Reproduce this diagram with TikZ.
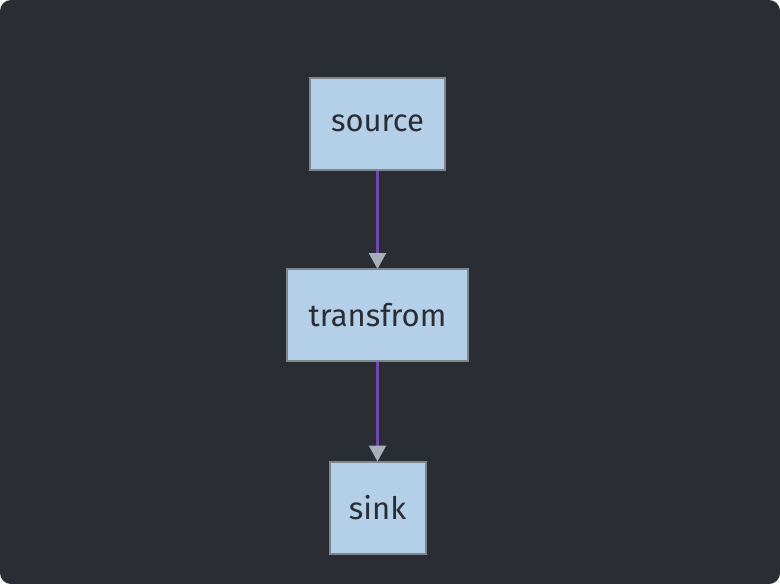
\documentclass[tikz,border=0pt]{standalone}
\usepackage{fontspec}
\setmainfont{Fira Sans}
\usetikzlibrary{arrows.meta}

\definecolor{bgdark}{HTML}{2A2D33}
\definecolor{boxfill}{HTML}{B4CFE8}
\definecolor{boxline}{HTML}{80868F}
\definecolor{flowline}{HTML}{7048B0}
\definecolor{tipgray}{HTML}{A9AEB8}

\tikzset{
  stage/.style = {draw=boxline, fill=boxfill, line width=2pt, minimum height=92pt,
    inner xsep=0pt, text=bgdark, font=\fontsize{31}{36}\selectfont},
  flow/.style = {draw=flowline, line width=2.6pt,
    -{Triangle[color=tipgray, length=16pt, width=17pt]}, shorten >=-1pt}
}

\begin{document}
\begin{tikzpicture}[x=1pt, y=-1pt]

 \fill[white] (0,0) rectangle (780,584);
 \fill[bgdark, rounded corners=11pt] (0,0) rectangle (780,584);
 \useasboundingbox (0,0) rectangle (780,584);

 \node(source)[stage, minimum width=135pt] at (377.5,123.5) {source};
 \node(transfrom)[stage, minimum width=181pt] at (377.5,315) {transfrom};
 \node(sink)[stage, minimum width=96pt] at (377.5,507.5) {sink};

 \draw[flow] (source) -- (transfrom);
 \draw[flow] (transfrom) -- (sink);

\end{tikzpicture}
\end{document}
